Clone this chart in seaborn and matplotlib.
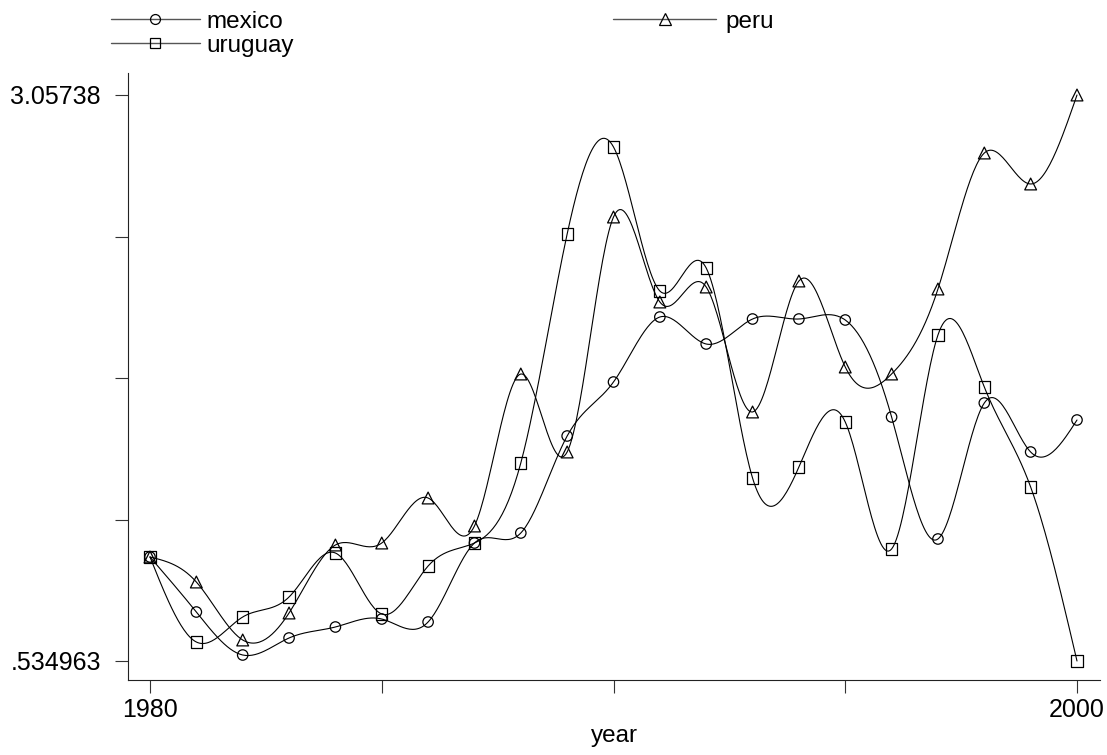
import numpy as np
import pandas as pd
import seaborn as sns
import matplotlib.pyplot as plt
from matplotlib.lines import Line2D

years = list(range(1980, 2001))
mexico = [0.9985, 0.7533, 0.5617, 0.6375, 0.6865, 0.7221, 0.7088, 1.0608, 1.1054, 1.5377, 1.7784,
          2.0680, 1.9477, 2.0591, 2.0591, 2.0547, 1.6224, 1.0787, 1.6848, 1.4664, 1.6090]
peru = [0.9985, 0.8870, 0.6286, 0.7489, 1.0519, 1.0608, 1.2614, 1.1366, 1.8140, 1.4664, 2.5137,
        2.1349, 2.2017, 1.6447, 2.2285, 1.8452, 1.8140, 2.1928, 2.7989, 2.6608, 3.05738]
uruguay = [0.9985, 0.6196, 0.7311, 0.8202, 1.0163, 0.7444, 0.9583, 1.0608, 1.4174, 2.4379, 2.8257,
           2.1839, 2.2864, 1.3505, 1.3995, 1.6001, 1.0341, 1.9878, 1.7561, 1.3104, 0.534963]
ymin, ymax = 0.534963, 3.05738


def natural_spline(x, y, n=30):
    """Natural cubic spline through the points, used only to draw the connecting curve."""
    x = np.asarray(x, float)
    y = np.asarray(y, float)
    k = len(x)
    h = np.diff(x)
    A = np.zeros((k, k))
    b = np.zeros(k)
    A[0, 0] = A[-1, -1] = 1
    for i in range(1, k - 1):
        A[i, i - 1] = h[i - 1]
        A[i, i] = 2 * (h[i - 1] + h[i])
        A[i, i + 1] = h[i]
        b[i] = 6 * ((y[i + 1] - y[i]) / h[i] - (y[i] - y[i - 1]) / h[i - 1])
    M = np.linalg.solve(A, b)
    xs, ys = [], []
    for i in range(k - 1):
        t = np.linspace(x[i], x[i + 1], n, endpoint=(i == k - 2))
        a = x[i + 1] - t
        c = t - x[i]
        s = (M[i] * a**3 + M[i + 1] * c**3) / (6 * h[i]) \
            + (y[i] / h[i] - M[i] * h[i] / 6) * a + (y[i + 1] / h[i] - M[i + 1] * h[i] / 6) * c
        xs.append(t)
        ys.append(s)
    return np.concatenate(xs), np.concatenate(ys)


series = {'mexico': mexico, 'peru': peru, 'uruguay': uruguay}
marker_map = {'mexico': 'o', 'peru': '^', 'uruguay': 's'}
size_map = {'mexico': 7.5, 'peru': 8.5, 'uruguay': 8}

points = pd.concat([pd.DataFrame({'year': years, 'value': v, 'country': k}) for k, v in series.items()])
curves = []
for k, v in series.items():
    sx, sy = natural_spline(years, v)
    curves.append(pd.DataFrame({'year': sx, 'value': sy, 'country': k}))
curves = pd.concat(curves)

sns.set_theme(style="white")
plt.rcParams['font.family'] = ['Liberation Sans', 'DejaVu Sans']
plt.rcParams['text.color'] = 'black'
plt.rcParams['axes.labelcolor'] = 'black'

fig = plt.figure(figsize=(11.07, 7.55), dpi=100)
ax = fig.add_axes([128 / 1107, 75 / 755, 972 / 1107, 607 / 755])

sns.lineplot(data=curves, x='year', y='value', units='country', estimator=None,
             color='black', linewidth=0.8, sort=False, ax=ax, legend=False)
for k in series:
    d = points[points['country'] == k]
    sns.scatterplot(data=d, x='year', y='value', marker=marker_map[k], s=size_map[k] ** 2,
                    facecolor='none', edgecolor='black', linewidth=0.9, ax=ax, legend=False, zorder=3)

ax.set_xlim(1980 - 22 / 46.35, 2000 + 23 / 46.35)
px = (ymax - ymin) / 566
ax.set_ylim(ymin - 19 * px, ymax + 22 * px)

ax.set_xticks([1980, 1985, 1990, 1995, 2000])
ax.set_xticklabels(['1980', '', '', '', '2000'])
ax.set_yticks(np.linspace(ymin, ymax, 5))
ax.set_yticklabels(['.534963', '', '', '', '3.05738'])
ax.tick_params(axis='both', direction='out', length=9.4, width=0.8, color='#333333',
               labelsize=18, labelcolor='black', bottom=True, left=True)
ax.tick_params(axis='x', pad=3.5)
ax.tick_params(axis='y', pad=10)
ax.set_xlabel('year', fontsize=17.5, labelpad=2, color='black')
ax.set_ylabel('')
sns.despine(ax=ax)
for sp in ['left', 'bottom']:
    ax.spines[sp].set_color('#222222')
    ax.spines[sp].set_linewidth(0.8)


def handle(k):
    return Line2D([], [], color='#555555', lw=1, marker=marker_map[k], markersize=size_map[k] * 0.95,
                  markerfacecolor='none', markeredgecolor='black', markeredgewidth=0.9, label=k)


fig.legend(handles=[handle('mexico'), handle('uruguay')], loc='upper left',
           bbox_to_anchor=(111 / 1107, 1 - 10.5 / 755), frameon=False, fontsize=17.5,
           handlelength=3.66, handletextpad=0.25, labelspacing=0.1, borderpad=0, borderaxespad=0,
           labelcolor='black')
fig.legend(handles=[handle('peru')], loc='upper left',
           bbox_to_anchor=(613 / 1107, 1 - 10.5 / 755), frameon=False, fontsize=17.5,
           handlelength=4.24, handletextpad=0.37, borderpad=0, borderaxespad=0,
           labelcolor='black')

fig.savefig('out.png', dpi=100)
